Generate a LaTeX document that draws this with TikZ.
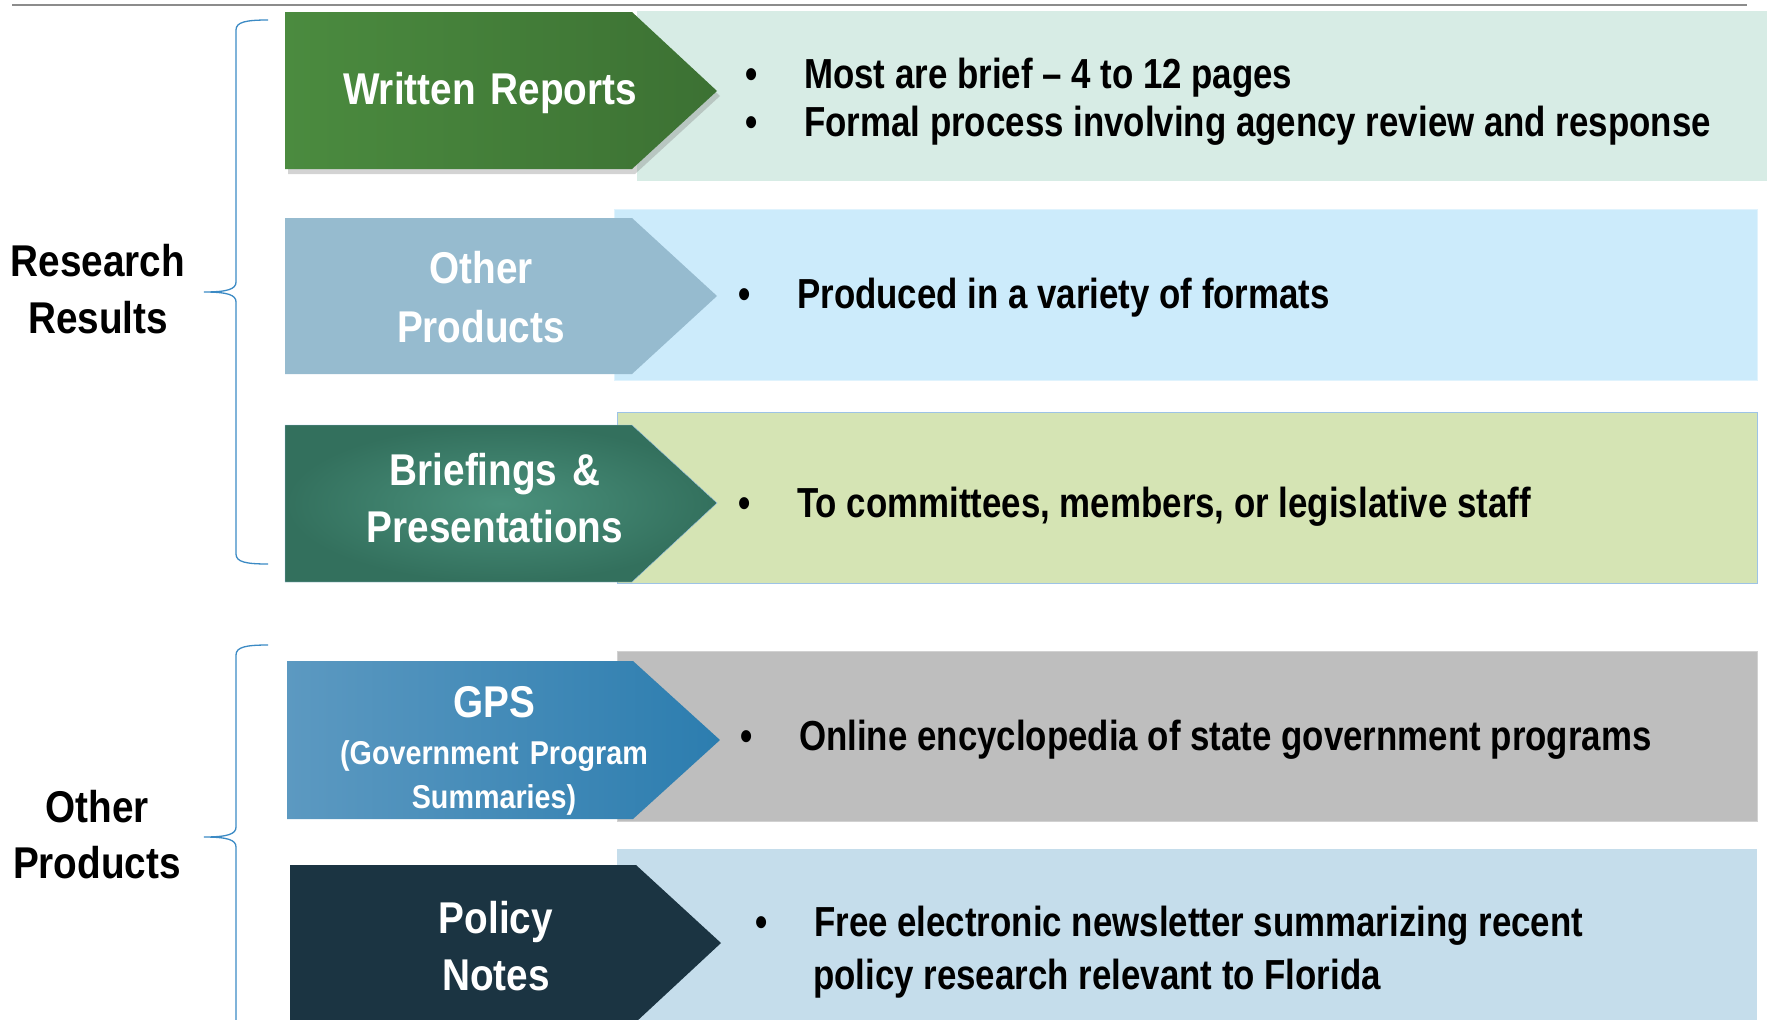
\documentclass[tikz,border=0pt]{standalone}
\usepackage{fontspec}
\newfontfamily\titlefont{Liberation Sans}[FakeStretch=0.87]
\newfontfamily\bodyfont{Liberation Sans}[FakeStretch=0.83]
\usetikzlibrary{shadows}

\definecolor{topline}{HTML}{8C8C8C}
\definecolor{bracecol}{HTML}{3B8AC4}
\definecolor{wrL}{HTML}{4B8B3F}
\definecolor{wrR}{HTML}{3C7133}
\definecolor{mint}{HTML}{D7ECE5}
\definecolor{opcol}{HTML}{96BBCF}
\definecolor{skyb}{HTML}{CCEBFB}
\definecolor{brin}{HTML}{4A917C}
\definecolor{brout}{HTML}{33705D}
\definecolor{lime}{HTML}{D5E4B4}
\definecolor{edgeb}{HTML}{9DC3E6}
\definecolor{gpsL}{HTML}{5C99C1}
\definecolor{gpsR}{HTML}{2C7DAF}
\definecolor{grayb}{HTML}{BEBEBE}
\definecolor{polcol}{HTML}{1B3442}
\definecolor{steel}{HTML}{C5DDEB}

\newcommand{\bul}{\makebox[59pt][l]{\textbullet}}

\begin{document}
\begin{tikzpicture}[x=1pt, y=-1pt,
  title/.style={text=white, font=\titlefont\bfseries\fontsize{44.5}{57}\selectfont,
    text width=360pt, align=center, anchor=base, inner sep=0pt},
  side/.style={title, text=black, text width=200pt},
  item/.style={font=\bodyfont\bfseries\fontsize{42}{48}\selectfont, anchor=base west, inner sep=0pt},
  brc/.style={draw=bracecol, line width=1.3pt}]
\useasboundingbox (0,0) rectangle (1767,1020);
\draw[topline, line width=2.5pt] (12,5) -- (1747,5);
% text panels
\fill[mint] (637,11) rectangle (1767,181);
\filldraw[fill=skyb, draw=skyb!60!white] (614,209) rectangle (1757,380);
\filldraw[fill=lime, draw=edgeb] (617,412) rectangle (1757,583);
\filldraw[fill=grayb, draw=grayb!70!white] (617,651) rectangle (1757,821);
\fill[steel] (617,849) rectangle (1757,1025);
% arrows
\path[left color=wrL, right color=wrR, drop shadow={shadow xshift=3pt, shadow yshift=-5pt, opacity=0.35}]
  (285,12) -- (632,12) -- (717,91) -- (632,169) -- (285,169) -- cycle;
\fill[opcol] (285,218) -- (632,218) -- (717,296) -- (632,374) -- (285,374) -- cycle;
\path[draw=edgeb, inner color=brin, outer color=brout]
  (285,425) -- (632,425) -- (717,503) -- (632,582) -- (285,582) -- cycle;
\path[left color=gpsL, right color=gpsR] (287,661) -- (633,661) -- (720,740) -- (633,819) -- (287,819) -- cycle;
\fill[polcol] (290,865) -- (636,865) -- (721,943) -- (636,1022) -- (290,1022) -- cycle;
% braces
\draw[brc] (268,20) .. controls (246,20) and (236,22) .. (236,30) -- (236,282)
  .. controls (236,289) and (228,292) .. (204,292) .. controls (228,292) and (236,295) .. (236,302)
  -- (236,554) .. controls (236,562) and (246,564) .. (268,564);
\draw[brc] (268,645) .. controls (246,645) and (236,647) .. (236,655) -- (236,827)
  .. controls (236,834) and (228,837) .. (204,837) .. controls (228,837) and (236,840) .. (236,847)
  -- (236,1025);
% labels
\node[side] (res) at (98,276) {Research\\Results};
\node[side, font=\titlefont\bfseries\fontsize{44.5}{56}\selectfont] (oth) at (97,822) {Other\\Products};
\node[title] (wr) at (490,104) {Written Reports};
\node[title, font=\titlefont\bfseries\fontsize{44.5}{59}\selectfont] (op) at (481,283) {Other\\Products};
\node[title] (brf) at (495,485) {Briefings \&\\Presentations};
\node[title] (gps) at (494,717) {GPS};
\node[title, font=\titlefont\bfseries\fontsize{33}{44}\selectfont] (gpsl) at (494,764) {(Government Program\\Summaries)};
\node[title] (pol) at (496,933) {Policy\\Notes};
% bullets
\node[item] (wr1) at (745,88) {\bul Most are brief – 4 to 12 pages};
\node[item] (wr2) at (745,136) {\bul Formal process involving agency review and response};
\node[item] (op1) at (738,308) {\bul Produced in a variety of formats};
\node[item] (brf1) at (738,517) {\bul To committees, members, or legislative staff};
\node[item] (gps1) at (740,750) {\bul Online encyclopedia of state government programs};
\node[item] (pol1) at (755,936) {\bul Free electronic newsletter summarizing recent};
\node[item] (pol2) at (813,989) {policy research relevant to Florida};
\end{tikzpicture}
\end{document}
